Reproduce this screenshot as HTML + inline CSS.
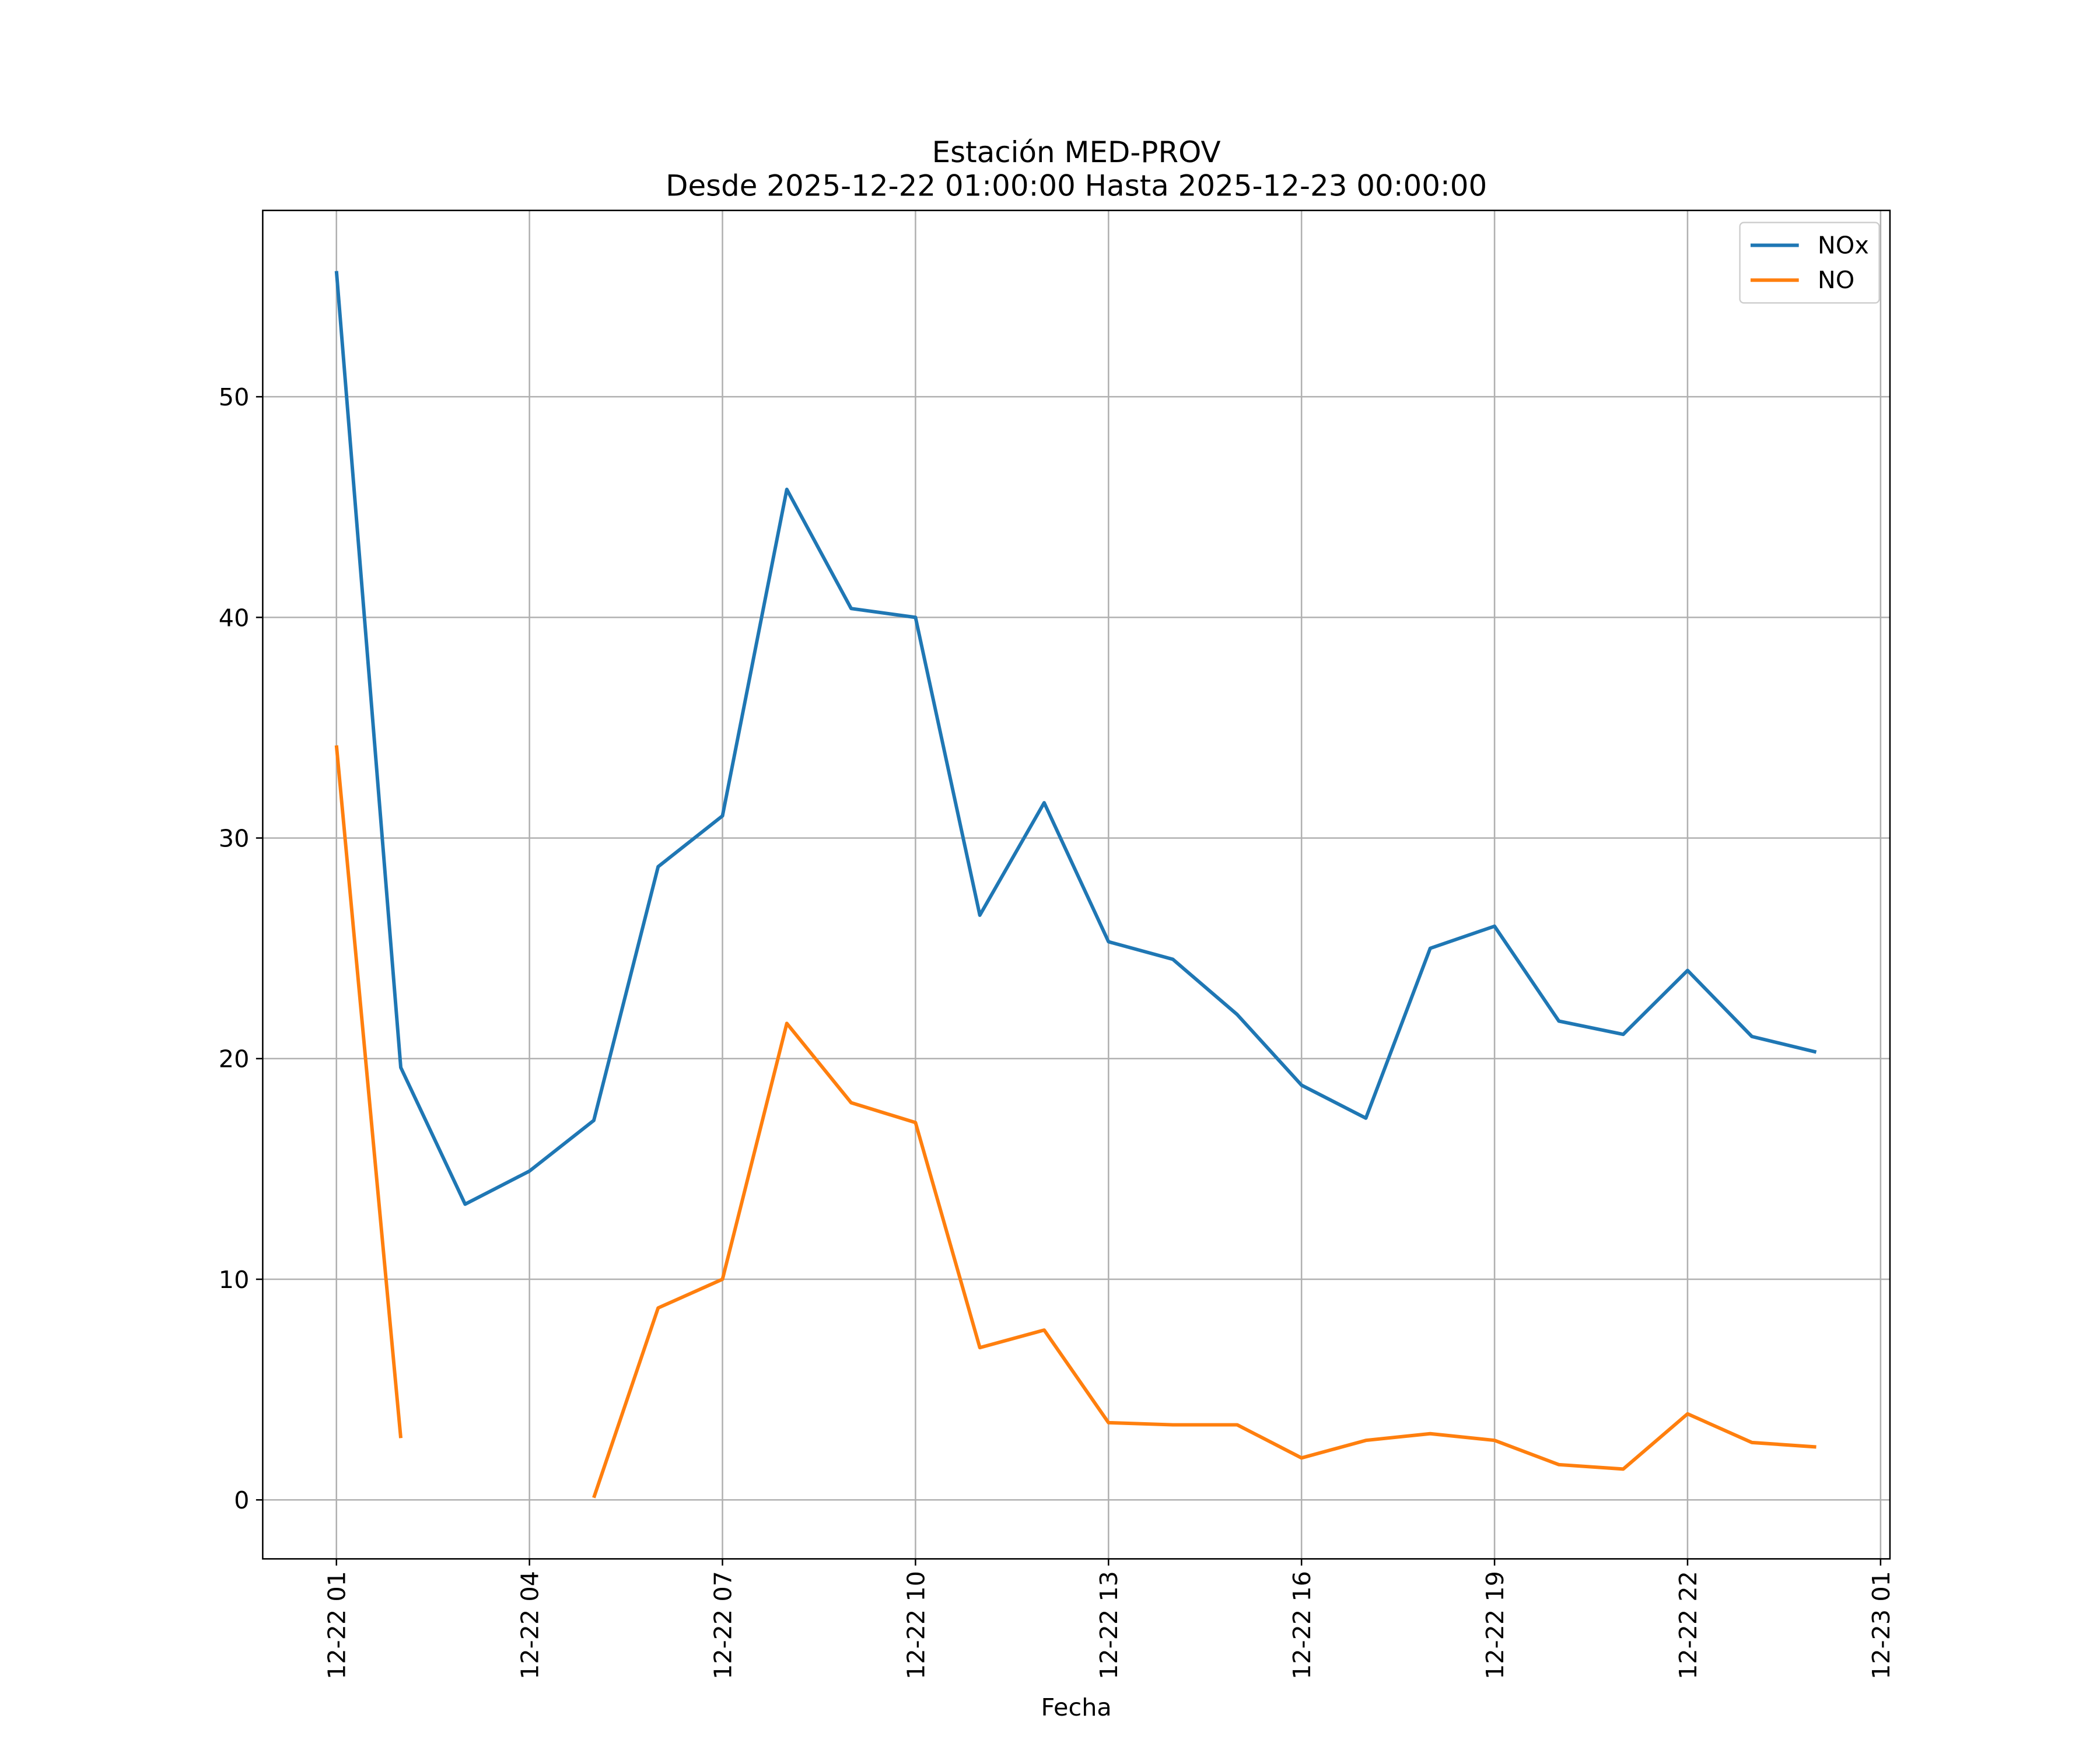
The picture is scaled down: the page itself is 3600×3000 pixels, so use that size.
<!DOCTYPE html>
<html><head><meta charset="utf-8"><style>
html,body{margin:0;padding:0;background:#fff;}
svg{display:block;width:3600px;height:3000px;}
text{font-family:"DejaVu Sans","Liberation Sans",sans-serif;fill:#000;}
</style></head><body>
<svg id="chart" viewBox="0 0 1566.7 1305.6" preserveAspectRatio="none" xmlns="http://www.w3.org/2000/svg">
<rect width="1570" height="1310" fill="#fff"/>
<text x="803" y="121" text-anchor="middle" font-size="21.7">Estación MED-PROV</text>
<text x="803" y="146" text-anchor="middle" font-size="21.7">Desde 2025-12-22 01:00:00 Hasta 2025-12-23 00:00:00</text>
<g id="grid"></g>
<g id="series"></g>
<rect x="196" y="157" width="1214" height="1006" fill="none" stroke="#000" stroke-width="1.1"/>
<g id="ticks"></g>
<text x="803" y="1280" text-anchor="middle" font-size="18">Fecha</text>
<g>
<rect x="1298" y="166" width="104" height="60" rx="3" fill="#fff" stroke="#ccc" stroke-width="1"/>
<line x1="1306" y1="183" x2="1342" y2="183" stroke="#1f77b4" stroke-width="2.6"/>
<text x="1356" y="189" font-size="18">NOx</text>
<line x1="1306" y1="209" x2="1342" y2="209" stroke="#ff7f0e" stroke-width="2.6"/>
<text x="1356" y="215" font-size="18">NO</text>
</g>
</svg>
<script>
const hours = [1,2,3,4,5,6,7,8,9,10,11,12,13,14,15,16,17,18,19,20,21,22,23,24];
const noxValues = [55.7,19.6,13.4,14.9,17.2,28.7,31.0,45.8,40.4,40.0,26.5,31.6,25.3,24.5,22.0,18.8,17.3,25.0,26.0,21.7,21.1,24.0,21.0,20.3];
const noValues = [34.2,2.8,null,null,0.1,8.7,10.0,21.6,18.0,17.1,6.9,7.7,3.5,3.4,3.4,1.9,2.7,3.0,2.7,1.6,1.4,3.9,2.6,2.4];
const xTickHours = [1,4,7,10,13,16,19,22,25];
const xTickLabels = ["12-22 01","12-22 04","12-22 07","12-22 10","12-22 13","12-22 16","12-22 19","12-22 22","12-23 01"];
const yTicks = [0,10,20,30,40,50];

const NS="http://www.w3.org/2000/svg";
function xScale(h){return 251+(h-1)*48;}
function yScale(v){return 1119-v*(1119-296)/50;}
function mk(tag,attrs,parent){const e=document.createElementNS(NS,tag);for(const k in attrs)e.setAttribute(k,attrs[k]);parent.appendChild(e);return e;}
const grid=document.getElementById('grid'),ticks=document.getElementById('ticks'),series=document.getElementById('series');
xTickHours.forEach((h,i)=>{
  const x=xScale(h);
  const g=mk('line',{x1:x,x2:x,y1:157,y2:1163,stroke:'#b0b0b0','stroke-width':1.1},grid);
  
  
  mk('line',{x1:x,x2:x,y1:1163,y2:1168,stroke:'#000','stroke-width':1.1},ticks);
  const t=mk('text',{x:0,y:0,'font-size':18,'text-anchor':'end',transform:`translate(${x+6.5},1172) rotate(-90)`},ticks);
  t.textContent=xTickLabels[i];
  
  
});
yTicks.forEach(v=>{
  const y=yScale(v);
  const g=mk('line',{x1:196,x2:1410,y1:y,y2:y,stroke:'#b0b0b0','stroke-width':1.1},grid);
  
  
  mk('line',{x1:191,x2:196,y1:y,y2:y,stroke:'#000','stroke-width':1.1},ticks);
  const t=mk('text',{x:186,y:y+6.5,'font-size':18,'text-anchor':'end'},ticks);
  t.textContent=String(v);
  
  
});
function drawSeries(vals,color,name){
  let d='',pen=false;
  vals.forEach((v,i)=>{
    if(v===null){pen=false;return;}
    d+=(pen?'L':'M')+xScale(hours[i]).toFixed(1)+' '+yScale(v).toFixed(1)+' ';
    pen=true;
  });
  const p=mk('path',{d:d,fill:'none',stroke:color,'stroke-width':2.6,'stroke-linejoin':'round'},series);
  
  
}
drawSeries(noxValues,'#1f77b4','nox-line');
drawSeries(noValues,'#ff7f0e','no-line');
</script>
</body></html>
